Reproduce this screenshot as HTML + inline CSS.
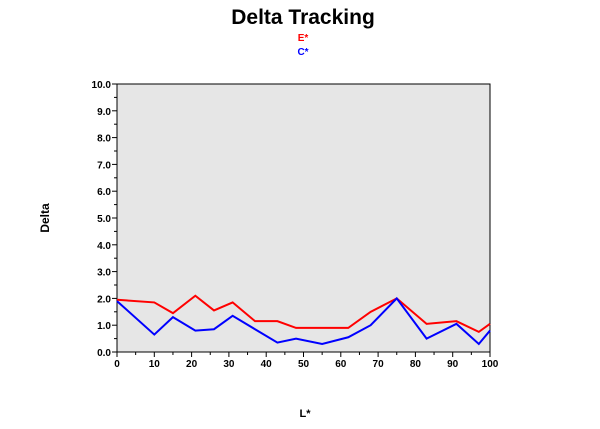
<!DOCTYPE html>
<html><head><meta charset="utf-8"><style>
body{margin:0;background:#fff;width:600px;height:424px;overflow:hidden;font-family:"Liberation Sans",Arial,sans-serif}
</style></head><body>
<svg id="chart" width="600" height="424" xmlns="http://www.w3.org/2000/svg" font-family="Liberation Sans, Arial, sans-serif">
<text x="303" y="24" text-anchor="middle" font-size="21" font-weight="bold">Delta Tracking</text>
<text x="303" y="41" text-anchor="middle" font-size="10" font-weight="bold" fill="#f00">E*</text>
<text x="303" y="55" text-anchor="middle" font-size="10" font-weight="bold" fill="#00f">C*</text>
<rect x="117" y="84" width="373" height="268" fill="#e6e6e6" stroke="#000" stroke-width="1"/>
<text transform="translate(49,218) rotate(-90)" text-anchor="middle" font-size="12" font-weight="bold">Delta</text>
<text x="305" y="417" text-anchor="middle" font-size="11" font-weight="bold">L*</text>
<g id="axes"></g>
<g id="series"></g>
</svg>
<script>
const xValues=[0,10,15,21,26,31,37,43,48,55,62,68,75,83,91,97,100];
const eValues=[1.95,1.85,1.45,2.1,1.55,1.85,1.15,1.15,0.9,0.9,0.9,1.5,2.0,1.05,1.15,0.75,1.05];
const cValues=[1.9,0.65,1.3,0.8,0.85,1.35,0.85,0.35,0.5,0.3,0.55,1.0,2.0,0.5,1.05,0.3,0.8];
const yTicks=[0,1,2,3,4,5,6,7,8,9,10];
const xTicks=[0,10,20,30,40,50,60,70,80,90,100];
const NS="http://www.w3.org/2000/svg";
const L=117,R=490,T=84,B=352;
const sx=v=>L+(v/100)*(R-L);
const sy=v=>B-(v/10)*(B-T);
const axes=document.getElementById('axes'),series=document.getElementById('series');
function mk(tag,attrs,parent){const e=document.createElementNS(NS,tag);for(const k in attrs)e.setAttribute(k,attrs[k]);parent.appendChild(e);return e;}
yTicks.forEach(v=>{
  const l=mk('line',{x1:L-5,x2:L,y1:sy(v),y2:sy(v),stroke:'#000'},axes);
  
  
  if(v<10){const m=mk('line',{x1:L-3,x2:L,y1:sy(v+0.5),y2:sy(v+0.5),stroke:'#000'},axes);
  
  }
  const t=mk('text',{x:L-6,y:sy(v)+4,'text-anchor':'end','font-size':'10','font-weight':'bold'},axes);
  
  
  t.textContent=v.toFixed(1);
});
xTicks.forEach(v=>{
  const l=mk('line',{x1:sx(v),x2:sx(v),y1:B,y2:B+5,stroke:'#000'},axes);
  
  
  if(v<100){const m=mk('line',{x1:sx(v+5),x2:sx(v+5),y1:B,y2:B+3,stroke:'#000'},axes);
  
  }
  const t=mk('text',{x:sx(v),y:B+15,'text-anchor':'middle','font-size':'10','font-weight':'bold'},axes);
  
  
  t.textContent=v;
});
function line(vals,color,name){
  const p=mk('polyline',{points:vals.map((v,i)=>sx(xValues[i])+','+sy(v)).join(' '),fill:'none',stroke:color,'stroke-width':2},series);
  
  
}
line(eValues,'#f00','series-e-line');
line(cValues,'#00f','series-c-line');
</script>
</body></html>
